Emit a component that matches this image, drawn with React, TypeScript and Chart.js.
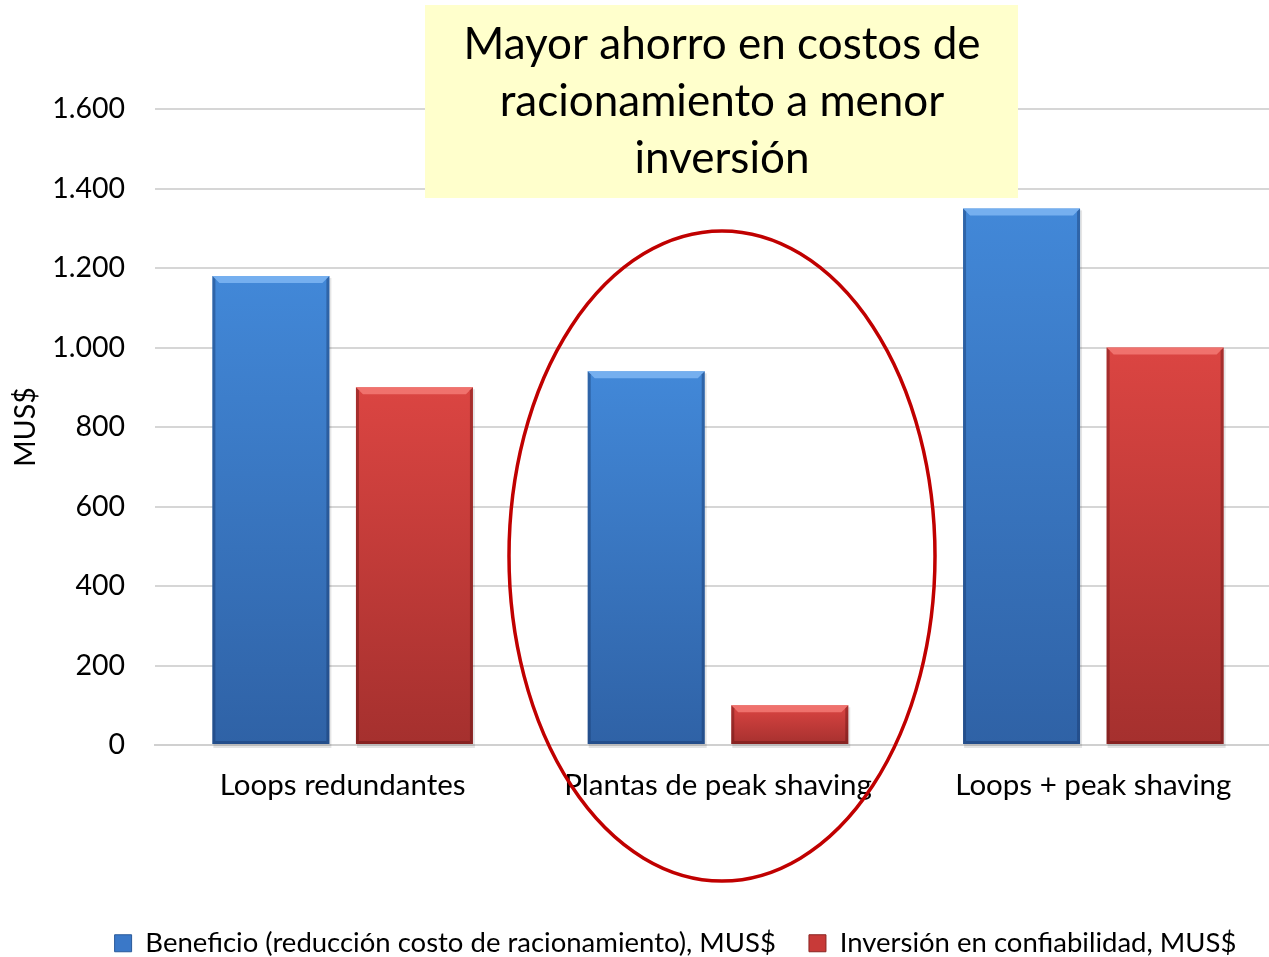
import React, { useEffect, useRef } from "react";
import { Chart, registerables } from "chart.js";

Chart.register(...registerables);

const categories = ["Loops redundantes", "Plantas de peak shaving", "Loops + peak shaving"];
const beneficio = [1180, 940, 1350];
const inversion = [900, 100, 1000];
const seriesNames = [
  "Beneficio (reducción costo de racionamiento), MUS$",
  "Inversión en confiabilidad, MUS$",
];
const yTicks = [0, 200, 400, 600, 800, 1000, 1200, 1400, 1600];
const titleLines = ["Mayor ahorro en costos de", "racionamiento a menor", "inversión"];
const yAxisTitle = "MUS$";

const FONT = "Lato, 'Open Sans', sans-serif";

function fmt(v: number): string {
  if (v >= 1000) return Math.floor(v / 1000) + "." + String(v % 1000).padStart(3, "0");
  return String(v);
}

function gradFor(top: string, bottom: string) {
  return (c: any) => {
    const chart = c.chart;
    if (!chart.chartArea || c.parsed == null) return top;
    const ys = chart.scales.y;
    const y1 = ys.getPixelForValue(c.parsed.y);
    const y0 = ys.getPixelForValue(0);
    if (!isFinite(y1) || !isFinite(y0) || y1 === y0) return top;
    const g = chart.ctx.createLinearGradient(0, y1, 0, y0);
    g.addColorStop(0, top);
    g.addColorStop(1, bottom);
    return g;
  };
}

const bevelPlugin = {
  id: "bevel",
  beforeDatasetsDraw(chart: any) {
    const ctx = chart.ctx;
    ctx.save();
    chart.data.datasets.forEach((_: any, di: number) => {
      chart.getDatasetMeta(di).data.forEach((bar: any) => {
        const left = bar.x - bar.width / 2;
        ctx.fillStyle = "rgba(0,0,0,0.10)";
        ctx.fillRect(left + 1, bar.y + 2, bar.width + 1, bar.base - bar.y + 2);
      });
    });
    ctx.restore();
  },
  afterDatasetsDraw(chart: any) {
    const ctx = chart.ctx;
    ctx.save();
    chart.data.datasets.forEach((ds: any, di: number) => {
      const meta = chart.getDatasetMeta(di);
      const light = di === 0 ? "rgba(130,185,245,0.8)" : "rgba(245,125,120,0.8)";
      const dark = di === 0 ? "rgba(20,50,100,0.4)" : "rgba(90,15,15,0.4)";
      meta.data.forEach((bar: any) => {
        const left = bar.x - bar.width / 2;
        const right = bar.x + bar.width / 2;
        const top = bar.y;
        const bottom = bar.base;
        const b = 7;
        ctx.fillStyle = light;
        ctx.beginPath();
        ctx.moveTo(left, top);
        ctx.lineTo(right, top);
        ctx.lineTo(right - b, top + b);
        ctx.lineTo(left + b, top + b);
        ctx.closePath();
        ctx.fill();
        ctx.fillStyle = dark;
        ctx.beginPath();
        ctx.moveTo(right, top);
        ctx.lineTo(right, bottom);
        ctx.lineTo(right - 3, bottom - 3);
        ctx.lineTo(right - 3, top + 3);
        ctx.closePath();
        ctx.fill();
        ctx.beginPath();
        ctx.moveTo(left, top);
        ctx.lineTo(left + 3, top + 3);
        ctx.lineTo(left + 3, bottom - 3);
        ctx.lineTo(left, bottom);
        ctx.closePath();
        ctx.fill();
        ctx.beginPath();
        ctx.moveTo(left, bottom);
        ctx.lineTo(right, bottom);
        ctx.lineTo(right - 3, bottom - 3);
        ctx.lineTo(left + 3, bottom - 3);
        ctx.closePath();
        ctx.fill();
      });
    });
    ctx.restore();
  },
};

const overlayPlugin = {
  id: "overlay",
  afterLayout(chart: any) {
    const lg = chart.legend;
    if (lg) {
      lg.left += 35;
      lg.right += 35;
      lg.top += 10;
      lg.bottom += 10;
    }
  },
  afterDraw(chart: any) {
    const ctx = chart.ctx;
    ctx.save();
    ctx.fillStyle = "#FFFFCC";
    ctx.fillRect(425, 5, 593, 193);
    ctx.fillStyle = "#000000";
    ctx.font = `44px ${FONT}`;
    ctx.textAlign = "center";
    ctx.textBaseline = "middle";
    titleLines.forEach((t, i) => ctx.fillText(t, 722, 45 + i * 57));
    ctx.strokeStyle = "#C00000";
    ctx.lineWidth = 3.5;
    ctx.beginPath();
    ctx.ellipse(722, 556, 213, 325, 0, 0, Math.PI * 2);
    ctx.stroke();
    ctx.restore();
  },
};

export default function App() {
  const ref = useRef<HTMLCanvasElement | null>(null);
  useEffect(() => {
    if (!ref.current) return;
    const chart = new Chart(ref.current, {
      type: "bar",
      data: {
        labels: categories,
        datasets: [
          {
            label: seriesNames[0],
            data: beneficio,
            backgroundColor: gradFor("#4288D8", "#2F62A6"),
            borderWidth: 0,
            barPercentage: 0.815,
            categoryPercentage: 0.765,
          },
          {
            label: seriesNames[1],
            data: inversion,
            backgroundColor: gradFor("#DB4542", "#A5302E"),
            borderWidth: 0,
            barPercentage: 0.815,
            categoryPercentage: 0.765,
          },
        ],
      },
      options: {
        responsive: false,
        animation: false,
        devicePixelRatio: 1,
        layout: { padding: { top: 109, right: 0, bottom: 0, left: 0 } },
        plugins: {
          title: { display: false },
          tooltip: { enabled: false },
          legend: {
            position: "bottom",
            labels: {
              font: { family: FONT, size: 27.5 },
              color: "#000",
              boxWidth: 17,
              boxHeight: 17,
              padding: 33,
              generateLabels: () => [
                { text: seriesNames[0], fillStyle: "#3A78C8", strokeStyle: "#2A5A9A", lineWidth: 1, datasetIndex: 0 },
                { text: seriesNames[1], fillStyle: "#C83A38", strokeStyle: "#8A2522", lineWidth: 1, datasetIndex: 1 },
              ],
            },
          },
        },
        scales: {
          x: {
            grid: { display: false, drawTicks: false },
            border: { display: true, color: "#D0D0D0", width: 2 },
            ticks: { font: { family: FONT, size: 29.5 }, color: "#000", padding: 23 },
            afterFit: (s: any) => {
              s.height = 141.5;
            },
          },
          y: {
            min: 0,
            max: 1600,
            afterBuildTicks: (s: any) => {
              s.ticks = yTicks.map((v) => ({ value: v }));
            },
            ticks: {
              font: { family: FONT, size: 28.5 },
              color: "#000",
              padding: 30,
              callback: (v: any) => fmt(Number(v)),
            },
            grid: { color: "#D6D6D6", lineWidth: 2, drawTicks: false },
            border: { display: false },
            title: {
              display: true,
              text: yAxisTitle,
              font: { family: FONT, size: 28.5 },
              color: "#000",
              padding: { top: 9, bottom: 0 },
            },
            afterFit: (s: any) => {
              s.width = 155;
            },
          },
        },
      },
      plugins: [bevelPlugin, overlayPlugin],
    });
    return () => chart.destroy();
  }, []);
  return (
    <div style={{ position: "fixed", left: 0, top: 0, width: 1269, height: 957, overflow: "hidden", background: "#fff" }}>
      <canvas ref={ref} width={1281} height={957} style={{ width: 1281, height: 957, display: "block" }} />
    </div>
  );
}
